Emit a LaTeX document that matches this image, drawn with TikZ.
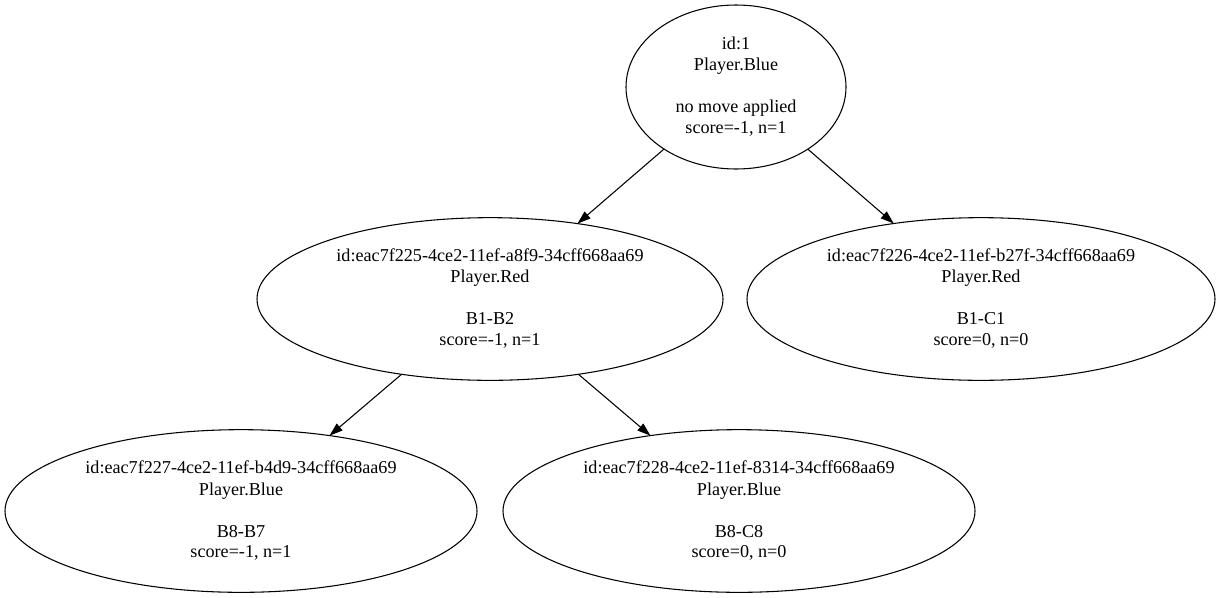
\documentclass[tikz,border=0pt]{standalone}
\usepackage{fontspec}
\setmainfont{Liberation Serif}
\usetikzlibrary{shapes.geometric,arrows.meta}

\begin{document}
\begin{tikzpicture}[x=0.75pt,y=-0.75pt,
  treenode/.style={ellipse,draw,line width=0.8pt,inner sep=0pt,outer sep=0pt,
    align=center,font=\fontsize{13.6}{15.75}\selectfont},
  rootnode/.style={treenode,minimum width=165pt,minimum height=123pt},
  wide/.style={treenode,minimum height=122pt},
  link/.style={line width=0.8pt,-{Triangle[length=10pt,width=6.7pt]}}]
  \useasboundingbox (0,0) rectangle (1221,597);

  \node[rootnode] (root) at (736,87)
    {id:1\\Player.Blue\\[15.75pt]no move applied\\score=-1, n=1};
  \node[wide,minimum width=349.5pt] (red1) at (490,299)
    {id:eac7f225-4ce2-11ef-a8f9-34cff668aa69\\Player.Red\\[15.75pt]B1-B2\\score=-1, n=1};
  \node[wide,minimum width=351pt] (red2) at (981,299)
    {id:eac7f226-4ce2-11ef-b27f-34cff668aa69\\Player.Red\\[15.75pt]B1-C1\\score=0, n=0};
  \node[wide,minimum width=354pt] (blue1) at (241,511)
    {id:eac7f227-4ce2-11ef-b4d9-34cff668aa69\\Player.Blue\\[15.75pt]B8-B7\\score=-1, n=1};
  \node[wide,minimum width=354pt] (blue2) at (739,511)
    {id:eac7f228-4ce2-11ef-8314-34cff668aa69\\Player.Blue\\[15.75pt]B8-C8\\score=0, n=0};

  \draw[link] (root) -- (red1);
  \draw[link] (root) -- (red2);
  \draw[link] (red1) -- (blue1);
  \draw[link] (red1) -- (blue2);
\end{tikzpicture}
\end{document}
